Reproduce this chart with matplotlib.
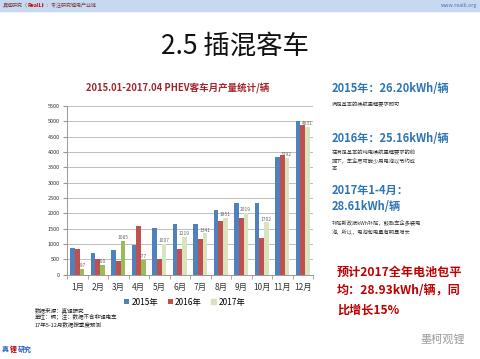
import numpy as np
import matplotlib
matplotlib.use("Agg")
import matplotlib.pyplot as plt
from matplotlib.patches import Rectangle

plt.rcParams['font.family'] = ['Noto Sans CJK SC', 'DejaVu Sans']

months = ['1月', '2月', '3月', '4月', '5月', '6月', '7月', '8月', '9月', '10月', '11月', '12月']
y2015 = [870, 690, 800, 950, 1530, 1660, 1650, 2120, 2330, 2320, 3850, 5020]
y2016 = [820, 500, 430, 1600, 520, 850, 1150, 1750, 1840, 1190, 3900, 4890]
y2017 = [197, 300, 1085, 477, 1007, 1219, 1341, 1851, 2019, 1702, 3792, 4831]
series = ['2015年', '2016年', '2017年']
yticks = list(range(0, 5501, 500))

blue = '#4f81bd'
red = '#c0504d'
green = '#9bbb59'
green_light = '#d7e4bd'
txt_blue = '#2e75b6'
txt_red = '#c00000'

fig = plt.figure(figsize=(4.8, 3.59), dpi=100)

# header band
fig.patches.append(Rectangle((0, 1 - 11/359), 1, 11/359, transform=fig.transFigure,
                             color='#c6d9f1', zorder=0))
hy = 1 - 5.5/359
fig.text(0.005, hy, '真锂研究（', fontsize=3.6, color='#7f3f3f', va='center')
fig.text(0.057, hy, 'RealLi', fontsize=3.8, color='#c00000', va='center',
         style='italic', weight='bold')
fig.text(0.088, hy, '）：专注研究锂电产业链', fontsize=3.6, color='#7f3f3f', va='center')
fig.text(0.995, hy, 'www.realli.org', fontsize=3.8, color='#4a6fb5', va='center', ha='right')

fig.text(0.49, 1 - 46/359, '2.5 插混客车', fontsize=19, ha='center', va='center', color='#111111')
fig.text(0.37, 1 - 88/359, '2015.01-2017.04 PHEV客车月产量统计/辆', fontsize=6.8,
         ha='center', va='center', color='#a0282d', weight='bold')

ax = fig.add_axes([67/480, 1 - 274.6/359, 246/480, 168.6/359])
x = np.arange(len(months))
w = 0.22
ax.bar(x - w, y2015, w, color=blue, label=series[0], zorder=2)
ax.bar(x, y2016, w, color=red, label=series[1], zorder=2)
c2017 = [green if i < 4 else green_light for i in range(len(months))]
ax.bar(x + w, y2017, w, color=c2017, label=series[2], zorder=2)
for xi, v in zip(x, y2017):
    ax.text(xi + w, v + 30, str(v), fontsize=3.5, ha='center', va='bottom', color='#666666')

ax.set_ylim(0, 5500)
ax.set_xlim(-0.5, 11.5)
ax.set_yticks(yticks)
ax.set_yticklabels([str(t) for t in yticks], fontsize=4, color='#333333')
ax.set_xticks(x)
ax.set_xticklabels(months, fontsize=6, color='#333333')
ax.set_xticks(np.arange(-0.5, 12, 1), minor=True)
ax.tick_params(axis='x', which='major', length=0, pad=6)
ax.tick_params(axis='x', which='minor', length=3, color='#999999')
ax.tick_params(axis='y', length=3, color='#999999', pad=2)
ax.grid(axis='y', color='#bfbfbf', linewidth=0.7, zorder=0)
for s in ['top', 'right']:
    ax.spines[s].set_visible(False)
ax.spines['left'].set_color('#999999')
ax.spines['bottom'].set_color('#999999')
ax.spines['left'].set_linewidth(0.7)
ax.spines['bottom'].set_linewidth(0.7)

handles, labels = ax.get_legend_handles_labels()
leg = fig.legend(handles, labels, loc='center', bbox_to_anchor=(0.385, 1 - 302/359), ncol=3,
                 frameon=False, fontsize=6, handlelength=0.6, handleheight=0.6,
                 columnspacing=1.1, handletextpad=0.3)
leg.legend_handles[2].set_color(green_light)

fig.text(35/480, 1 - 310/359, '数据来源：真锂研究', fontsize=4, color='#222222', va='center')
fig.text(35/480, 1 - 317/359, '单位：辆；注：数据不含非锂电车', fontsize=4, color='#222222', va='center')
fig.text(35/480, 1 - 324/359, '17年5-12月数据按季度预测', fontsize=4, color='#222222', va='center')

# right-hand notes
rx = 332/480
fig.text(rx, 1 - 88/359, '2015年：26.20kWh/辆', fontsize=8, color=txt_blue, weight='bold', va='center')
fig.text(rx, 1 - 105/359, '满足基本的续航里程要求即可', fontsize=3.8, color='#333333', va='center')
fig.text(rx, 1 - 138/359, '2016年：25.16kWh/辆', fontsize=8, color=txt_blue, weight='bold', va='center')
fig.text(rx, 1 - 153/359, '在满足基本的纯电续航里程要求的前', fontsize=3.8, color='#333333', va='center')
fig.text(rx, 1 - 161/359, '提下，车企尽可能少用电池以节约成', fontsize=3.8, color='#333333', va='center')
fig.text(rx, 1 - 169/359, '本', fontsize=3.8, color='#333333', va='center')
fig.text(rx, 1 - 190/359, '2017年1-4月：', fontsize=8, color=txt_blue, weight='bold', va='center')
fig.text(rx, 1 - 207/359, '28.61kWh/辆', fontsize=8, color=txt_blue, weight='bold', va='center')
fig.text(rx, 1 - 223/359, '补贴新政按kWh补贴，鼓励车企多装电', fontsize=3.8, color='#333333', va='center')
fig.text(rx, 1 - 232/359, '池，所以，电池包电量有明显增长', fontsize=3.8, color='#333333', va='center')

fig.text(337/480, 1 - 272/359, '预计2017全年电池包平', fontsize=8.7, color=txt_red, weight='bold', va='center')
fig.text(337/480, 1 - 291/359, '均：28.93kWh/辆，同', fontsize=8.7, color=txt_red, weight='bold', va='center')
fig.text(337/480, 1 - 310/359, '比增长15%', fontsize=8.7, color=txt_red, weight='bold', va='center')

fig.text(420/480, 1 - 339/359, '墨柯观锂', fontsize=8, color='#9a9a9a', va='center')

# bottom logo
fig.text(2/480, 1 - 349/359, '真', fontsize=5, color='#1f5fbf', weight='bold', va='center')
fig.text(10/480, 1 - 349/359, '锂', fontsize=5, color='#c00000', weight='bold', va='center')
fig.text(18/480, 1 - 349/359, '研究', fontsize=5, color='#1f5fbf', weight='bold', va='center')

fig.savefig('out.png', dpi=100)
